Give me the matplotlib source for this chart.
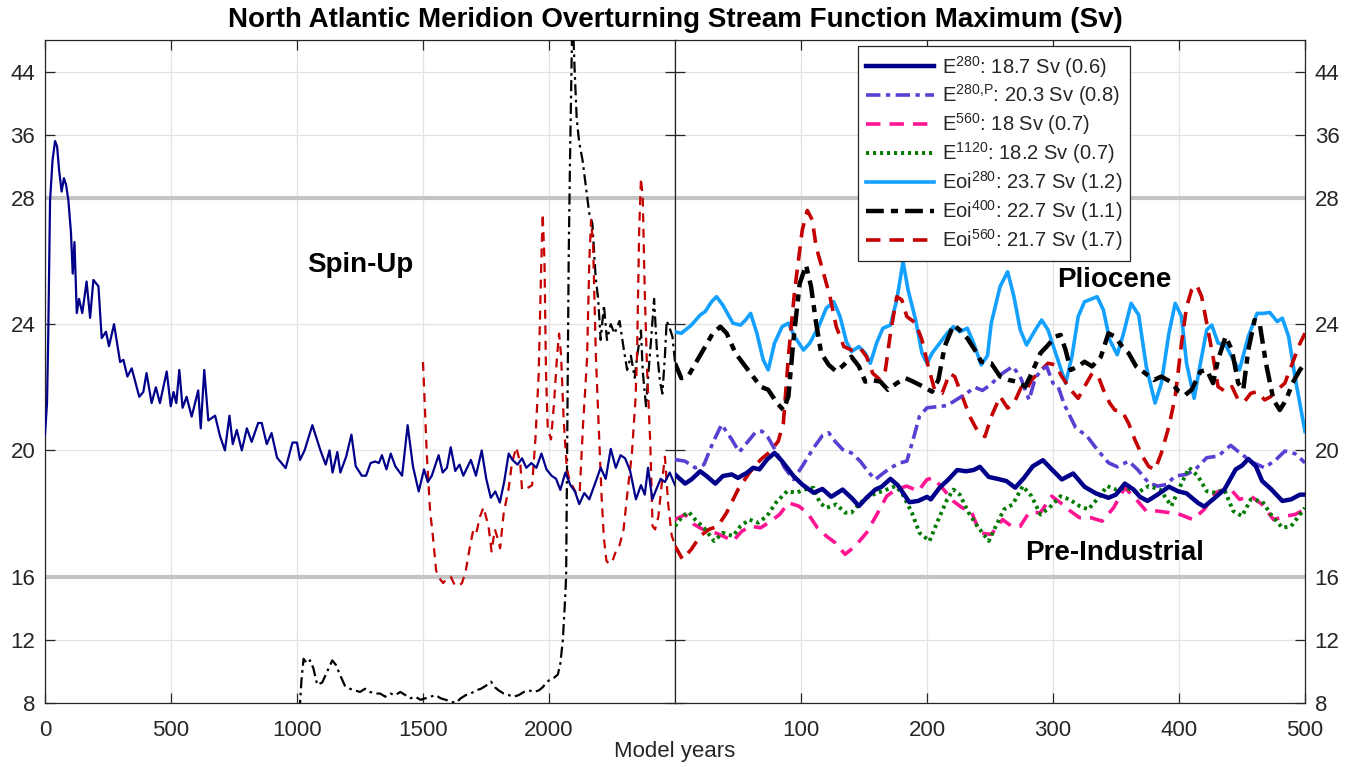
import numpy as np
import matplotlib
matplotlib.use("Agg")
import matplotlib.pyplot as plt

plt.rcParams['font.family'] = ['Liberation Sans', 'DejaVu Sans']
plt.rcParams['mathtext.fontset'] = 'custom'
plt.rcParams['mathtext.rm'] = 'Liberation Sans'

# ---------------------------------------------------------------- data
# Spin-up runs (model years 0-2500)
spin_e280_yr = [0, 8, 13, 20, 30, 40, 48, 56, 66, 75, 84, 93, 103, 110, 117, 126, 135, 148,
                165, 179, 192, 212, 225, 242, 254, 274, 298, 311, 327, 344, 374, 390, 403,
                423, 440, 456, 483, 499, 510, 521, 533, 546, 562, 582, 608, 618, 632, 648,
                675, 695, 714, 732, 745, 761, 781, 801, 820, 846, 860, 880, 899, 921, 955,
                982, 1000, 1012, 1030, 1061, 1093, 1114, 1129, 1141, 1160, 1172, 1195, 1216,
                1233, 1257, 1274, 1292, 1310, 1325, 1337, 1355, 1372, 1390, 1417, 1439, 1460,
                1483, 1504, 1519, 1535, 1562, 1578, 1595, 1610, 1628, 1645, 1660, 1690, 1710,
                1733, 1751, 1769, 1787, 1805, 1822, 1840, 1855, 1875, 1893, 1910, 1930, 1950,
                1970, 1990, 2010, 2028, 2045, 2065, 2085, 2103, 2120, 2140, 2160, 2185, 2205,
                2225, 2245, 2265, 2284, 2302, 2322, 2345, 2365, 2380, 2393, 2410, 2425, 2443,
                2460, 2479, 2500]
spin_e280_v = [20.5, 21.5, 23.7, 27.9, 32.8, 35.2, 34.5, 31.5, 28.8, 30.5, 29.6, 27.9, 26.9,
               25.6, 26.6, 24.35, 24.8, 24.35, 25.35, 24.2, 25.4, 25.2, 23.56, 23.76, 23.3,
               24.0, 22.8, 22.87, 22.34, 22.6, 21.7, 21.85, 22.45, 21.5, 22.0, 21.5, 22.5,
               21.4, 21.85, 21.5, 22.55, 21.35, 21.7, 21.07, 21.9, 20.7, 22.55, 20.95, 21.1,
               20.44, 20.0, 21.1, 20.2, 20.65, 20.0, 20.7, 20.27, 20.87, 20.87, 20.2, 20.55,
               19.77, 19.44, 20.25, 20.25, 19.7, 20.0, 20.8, 20.0, 19.55, 20.0, 19.3, 19.95,
               19.3, 19.8, 20.5, 19.5, 19.2, 19.2, 19.6, 19.65, 19.6, 19.85, 19.4, 19.9, 19.5,
               19.2, 20.8, 19.5, 18.7, 19.4, 19.0, 19.2, 19.85, 19.3, 19.45, 20.1, 19.35,
               19.55, 19.2, 19.7, 19.2, 20.0, 19.1, 18.5, 18.7, 18.35, 19.0, 19.9, 19.7, 19.55,
               19.75, 19.45, 19.6, 19.45, 19.9, 19.4, 19.2, 19.1, 18.75, 19.3, 18.9, 18.7,
               18.3, 18.65, 18.45, 19.0, 19.45, 19.1, 20.05, 19.45, 19.85, 19.75, 19.35, 18.45,
               18.9, 18.6, 19.45, 18.45, 18.75, 19.1, 19.0, 19.3, 18.9]

spin_eoi560_yr = [1500, 1515, 1528, 1539, 1552, 1565, 1580, 1595, 1610, 1625, 1640, 1655, 1670,
                  1685, 1700, 1712, 1726, 1740, 1760, 1772, 1785, 1797, 1806, 1820, 1840, 1853,
                  1870, 1886, 1893, 1913, 1933, 1946, 1959, 1968, 1975, 1982, 1988, 1995, 2008,
                  2020, 2032, 2040, 2048, 2058, 2070, 2082, 2095, 2110, 2122, 2135, 2151, 2160,
                  2167, 2175, 2186, 2196, 2209, 2218, 2228, 2240, 2252, 2265, 2280, 2296, 2309,
                  2329, 2343, 2349, 2358, 2365, 2372, 2380, 2389, 2402, 2411, 2421, 2434, 2447,
                  2460, 2473, 2487, 2500]
spin_eoi560_v = [22.8, 19.9, 18.1, 17.3, 16.2, 15.9, 15.6, 15.9, 16.0, 15.5, 15.4, 15.6, 16.2,
                 16.9, 17.5, 17.4, 17.9, 18.2, 17.6, 16.8, 17.5, 17.2, 16.9, 18.0, 18.8, 19.6,
                 20.1, 19.6, 18.75, 18.8, 18.9, 20.35, 22.4, 25.5, 27.5, 26.0, 22.5, 20.7, 20.35,
                 21.5, 23.0, 23.7, 23.0, 21.0, 19.5, 19.0, 18.85, 18.6, 18.7, 20.8, 22.9, 26.0,
                 27.3, 26.5, 23.0, 21.0, 18.5, 17.2, 16.5, 16.4, 16.5, 16.8, 17.0, 17.5, 18.5,
                 19.9, 21.6, 22.9, 27.0, 30.5, 28.0, 25.0, 22.6, 20.2, 17.6, 17.5, 17.9, 18.9,
                 19.8, 18.3, 17.3, 17.0]

spin_eoi400_yr = [1010, 1018, 1026, 1040, 1052, 1065, 1080, 1100, 1120, 1140, 1155, 1170, 1190,
                  1210, 1230, 1250, 1270, 1290, 1310, 1330, 1350, 1370, 1390, 1410, 1430, 1450,
                  1470, 1490, 1510, 1530, 1550, 1570, 1590, 1610, 1630, 1650, 1670, 1690, 1710,
                  1730, 1750, 1770, 1785, 1800, 1820, 1840, 1860, 1880, 1900, 1920, 1940, 1960,
                  1975, 1990, 2005, 2020, 2035, 2045, 2055, 2062, 2068, 2072, 2078, 2083, 2087,
                  2093, 2102, 2110, 2120, 2133, 2148, 2160, 2172, 2185, 2195, 2205, 2218, 2230,
                  2245, 2260, 2280, 2295, 2310, 2325, 2340, 2350, 2365, 2372, 2385, 2395, 2405,
                  2417, 2428, 2440, 2450, 2460, 2467, 2478, 2490, 2500]
spin_eoi400_v = [7.5, 9.5, 10.8, 10.5, 10.7, 10.2, 9.15, 9.3, 10.0, 10.7, 10.4, 9.8, 9.1, 8.9,
                 8.8, 8.7, 8.9, 8.7, 8.6, 8.6, 8.4, 8.6, 8.5, 8.7, 8.5, 8.3, 8.4, 8.2, 8.3, 8.4,
                 8.5, 8.3, 8.2, 8.1, 8.0, 8.3, 8.5, 8.6, 8.8, 8.9, 9.1, 9.35, 9.0, 8.8, 8.6, 8.5,
                 8.4, 8.5, 8.7, 8.8, 8.7, 8.8, 9.0, 9.3, 9.5, 9.6, 9.8, 10.5, 12.0, 14.0, 16.0,
                 20.0, 26.0, 32.0, 40.0, 52.0, 44.0, 38.0, 35.0, 32.8, 29.0, 27.5, 27.2, 25.5,
                 24.8, 23.5, 24.6, 23.5, 24.0, 23.7, 24.1, 23.3, 22.55, 23.0, 22.3, 23.0, 23.8,
                 22.5, 21.4, 22.5, 23.5, 24.8, 23.2, 22.2, 21.8, 23.0, 24.1, 23.9, 23.6, 22.8]

# Equilibrium runs (model years 0-500)
e280_yr = [0, 8, 13, 20, 25, 32, 38, 45, 50, 57, 62, 67, 73, 79, 85, 94, 101, 110, 117, 124,
           133, 140, 146, 152, 159, 164, 171, 177, 186, 193, 200, 203, 210, 217, 224, 231,
           237, 242, 249, 256, 263, 270, 277, 284, 292, 299, 307, 316, 325, 334, 344, 350,
           357, 364, 369, 375, 383, 392, 399, 406, 415, 420, 427, 436, 445, 450, 455, 461,
           466, 473, 482, 489, 496, 500]
e280_v = [19.24, 18.95, 19.08, 19.34, 19.19, 18.95, 19.19, 19.24, 19.13, 19.29, 19.45, 19.4,
          19.71, 19.92, 19.66, 19.19, 18.92, 18.66, 18.78, 18.53, 18.76, 18.5, 18.24, 18.5,
          18.76, 18.85, 19.1, 18.89, 18.36, 18.4, 18.53, 18.45, 18.82, 19.08, 19.38, 19.34,
          19.38, 19.48, 19.16, 19.1, 19.03, 18.82, 19.13, 19.5, 19.69, 19.4, 19.08, 19.27,
          18.85, 18.64, 18.5, 18.6, 18.95, 18.76, 18.53, 18.4, 18.6, 18.85, 18.71, 18.64,
          18.34, 18.22, 18.45, 18.76, 19.4, 19.52, 19.73, 19.5, 19.03, 18.78, 18.4, 18.45,
          18.6, 18.6]

e280p_yr = [0, 8, 16, 23, 30, 37, 45, 51, 57, 64, 69, 74, 80, 87, 94, 101, 110, 117, 122, 127,
            133, 140, 147, 154, 159, 164, 171, 179, 184, 189, 194, 200, 207, 216, 223, 231,
            238, 244, 251, 258, 268, 274, 281, 286, 291, 295, 300, 304, 309, 318, 327, 335,
            344, 351, 360, 367, 376, 383, 390, 397, 406, 413, 422, 431, 441, 450, 459, 468,
            477, 484, 492, 500]
e280p_v = [19.71, 19.66, 19.45, 19.55, 20.24, 20.82, 20.35, 19.95, 20.24, 20.58, 20.61, 20.4,
           19.98, 19.45, 19.08, 19.5, 20.08, 20.47, 20.56, 20.29, 20.03, 19.92, 19.66, 19.29,
           19.08, 19.24, 19.45, 19.61, 19.66, 20.35, 21.08, 21.35, 21.38, 21.42, 21.6, 21.8,
           22.0, 21.9, 22.1, 22.39, 22.66, 22.34, 21.6, 22.3, 22.55, 22.66, 22.13, 22.03,
           21.45, 20.72, 20.45, 20.03, 19.61, 19.48, 19.66, 19.4, 18.97, 18.87, 18.92, 19.19,
           19.24, 19.4, 19.77, 19.82, 20.16, 19.87, 19.61, 19.45, 19.71, 19.98, 19.9, 19.61]

e560_yr = [0, 8, 15, 22, 29, 38, 46, 53, 60, 68, 76, 83, 90, 98, 105, 113, 120, 127, 135, 143,
           152, 161, 168, 175, 184, 193, 200, 205, 212, 221, 228, 235, 242, 251, 260, 267,
           274, 281, 290, 299, 306, 312, 321, 330, 339, 348, 357, 366, 374, 383, 392, 401,
           411, 420, 429, 440, 448, 457, 466, 475, 485, 492, 500]
e560_v = [17.81, 17.97, 17.66, 17.5, 17.44, 17.29, 17.13, 17.44, 17.6, 17.55, 17.76, 17.97,
          18.34, 18.24, 18.03, 17.55, 17.29, 17.08, 16.71, 16.97, 17.39, 18.03, 18.55, 18.76,
          18.87, 18.71, 19.08, 19.13, 18.82, 18.39, 18.18, 18.08, 17.39, 17.34, 17.81, 17.6,
          17.6, 18.03, 18.03, 18.55, 18.34, 18.13, 17.87, 17.87, 17.76, 18.18, 18.82, 18.45,
          18.08, 18.08, 18.03, 17.97, 17.81, 18.13, 18.66, 18.82, 18.45, 18.55, 18.29, 17.81,
          17.92, 17.97, 18.13]

e1120_yr = [0, 6, 11, 16, 23, 31, 38, 46, 52, 59, 66, 73, 80, 89, 96, 103, 110, 115, 120, 128,
            135, 140, 147, 154, 161, 168, 175, 180, 188, 194, 202, 209, 216, 221, 226, 233,
            240, 249, 256, 261, 268, 276, 283, 290, 297, 306, 313, 321, 328, 336, 343, 350,
            358, 367, 376, 385, 394, 401, 408, 415, 422, 429, 436, 443, 450, 457, 466, 473,
            482, 489, 500]
e1120_v = [17.6, 17.92, 18.05, 17.81, 17.55, 17.13, 17.39, 17.29, 17.6, 17.81, 17.71, 17.92,
           18.34, 18.71, 18.66, 18.76, 18.82, 18.34, 18.18, 18.29, 18.03, 18.03, 18.34, 18.55,
           18.66, 18.76, 18.87, 18.66, 18.03, 17.39, 17.13, 17.81, 18.45, 18.76, 18.6, 18.03,
           17.6, 17.13, 17.71, 18.13, 18.29, 18.87, 18.55, 17.97, 18.18, 18.55, 18.45, 18.24,
           18.13, 18.5, 18.87, 18.76, 18.82, 18.66, 18.87, 18.76, 18.24, 18.87, 19.45, 19.19,
           18.71, 18.66, 18.76, 18.08, 17.92, 18.45, 18.39, 17.97, 17.55, 17.6, 18.18]

eoi280_yr = [0, 5, 13, 20, 24, 29, 33, 38, 46, 52, 56, 60, 65, 70, 74, 79, 85, 90, 95, 102,
             107, 114, 120, 126, 131, 136, 140, 146, 151, 155, 160, 165, 171, 176, 181, 185,
             191, 196, 200, 204, 209, 216, 221, 226, 232, 237, 243, 248, 251, 258, 264, 269,
             274, 279, 286, 291, 296, 303, 310, 315, 320, 325, 329, 335, 340, 345, 351, 356,
             362, 368, 374, 381, 386, 392, 397, 402, 406, 412, 417, 422, 426, 431, 437, 443,
             448, 455, 462, 467, 472, 478, 482, 487, 492, 500]
eoi280_v = [23.76, 23.71, 23.97, 24.29, 24.4, 24.71, 24.87, 24.6, 24.03, 23.97, 24.13, 24.34,
            23.71, 22.87, 22.55, 23.4, 23.92, 24.03, 23.6, 23.18, 23.4, 23.92, 24.5, 24.71,
            24.24, 23.45, 23.13, 23.29, 23.08, 22.76, 23.4, 23.87, 23.97, 24.77, 25.98, 25.08,
            24.13, 23.08, 22.76, 23.08, 23.34, 23.71, 23.92, 23.76, 23.87, 23.4, 22.71, 23.0,
            24.03, 25.19, 25.66, 24.87, 23.82, 23.34, 23.82, 24.13, 23.82, 22.97, 22.13, 22.97,
            24.24, 24.71, 24.77, 24.87, 24.45, 23.5, 23.03, 23.71, 24.66, 24.29, 22.66, 21.5,
            22.13, 23.71, 24.66, 24.24, 22.76, 21.65, 22.76, 23.82, 23.97, 23.4, 23.34, 22.87,
            22.55, 23.61, 24.34, 24.34, 24.37, 24.08, 24.19, 23.61, 22.34, 20.6]

eoi400_yr = [0, 5, 11, 17, 24, 30, 36, 41, 48, 54, 61, 68, 74, 81, 86, 90, 94, 99, 104, 108,
             112, 116, 122, 128, 134, 140, 146, 151, 156, 163, 169, 176, 183, 189, 197, 204,
             209, 214, 221, 226, 232, 238, 243, 251, 258, 265, 271, 278, 283, 290, 295, 302,
             306, 310, 314, 320, 325, 331, 338, 344, 349, 355, 360, 366, 373, 380, 386, 393,
             400, 405, 410, 417, 422, 427, 431, 437, 442, 447, 451, 455, 460, 464, 469, 475,
             480, 485, 490, 496, 500]
eoi400_v = [22.76, 22.29, 22.39, 22.81, 23.29, 23.71, 23.92, 23.71, 23.08, 22.76, 22.39, 22.02,
            21.92, 21.5, 21.28, 21.71, 23.5, 25.29, 25.87, 25.19, 24.03, 23.08, 22.71, 22.5,
            22.71, 22.97, 22.66, 22.18, 22.23, 22.18, 21.92, 22.13, 22.29, 22.18, 22.02, 21.86,
            22.23, 23.29, 23.97, 23.82, 23.55, 23.18, 22.81, 22.76, 22.34, 22.23, 22.18, 22.02,
            22.44, 23.08, 23.29, 23.61, 23.66, 23.18, 22.55, 22.66, 22.81, 22.66, 22.97, 23.71,
            23.61, 23.29, 23.08, 22.66, 22.45, 22.23, 22.34, 22.18, 21.86, 21.76, 21.92, 22.5,
            22.55, 22.13, 22.87, 23.61, 23.18, 22.13, 21.92, 23.18, 24.13, 24.03, 22.76, 21.6,
            21.28, 21.6, 22.13, 22.55, 22.76]

eoi560_yr = [0, 6, 13, 20, 27, 34, 41, 50, 59, 68, 76, 82, 86, 90, 95, 101, 105, 109, 112, 118,
             123, 128, 134, 140, 147, 152, 157, 163, 167, 171, 176, 180, 184, 191, 196, 201,
             206, 212, 218, 222, 228, 234, 241, 246, 251, 258, 264, 269, 275, 279, 283, 288,
             296, 302, 307, 314, 320, 325, 331, 336, 340, 345, 349, 355, 360, 365, 371, 376,
             381, 386, 392, 397, 402, 406, 410, 414, 418, 422, 427, 431, 437, 442, 447, 452,
             457, 462, 468, 473, 478, 484, 489, 496, 500]
eoi560_v = [16.97, 16.55, 16.87, 17.29, 17.5, 17.6, 18.03, 18.76, 19.29, 19.71, 19.98, 20.3,
            20.86, 22.97, 25.08, 26.98, 27.6, 27.3, 26.45, 25.6, 24.87, 23.92, 23.29, 23.18,
            23.24, 22.97, 22.44, 22.23, 22.55, 23.71, 24.87, 24.77, 24.24, 24.03, 23.5, 22.66,
            21.92, 21.81, 22.44, 22.34, 21.71, 21.07, 20.55, 20.44, 21.07, 21.71, 21.34, 21.5,
            22.02, 21.92, 22.23, 22.44, 22.76, 22.71, 22.34, 21.92, 21.65, 22.02, 22.44, 22.34,
            21.92, 21.5, 21.28, 21.23, 20.86, 20.34, 19.81, 19.49, 19.39, 19.92, 20.76, 21.71,
            23.39, 24.55, 25.08, 25.24, 24.87, 24.03, 22.97, 22.02, 21.86, 22.02, 21.6, 21.55,
            21.81, 21.86, 21.6, 21.71, 21.92, 22.13, 22.66, 23.39, 23.71]

legend_labels = [
    r'E$^{\mathregular{280}}$: 18.7 Sv (0.6)',
    r'E$^{\text{280,P}}$: 20.3 Sv (0.8)',
    r'E$^{\mathregular{560}}$: 18 Sv (0.7)',
    r'E$^{\mathregular{1120}}$: 18.2 Sv (0.7)',
    r'Eoi$^{\mathregular{280}}$: 23.7 Sv (1.2)',
    r'Eoi$^{\mathregular{400}}$: 22.7 Sv (1.1)',
    r'Eoi$^{\mathregular{560}}$: 21.7 Sv (1.7)',
]

y_ticks = [8, 12, 16, 20, 24, 28, 36, 44]
y_breaks = [16, 28]
x_ticks_spin = [0, 500, 1000, 1500, 2000]
x_ticks_eq = [100, 200, 300, 400, 500]

# ---------------------------------------------------------------- styles
NAVY = '#00008B'
PURPLE = '#5B3FD3'
PINK = '#FF1493'
GREEN = '#007A00'
LBLUE = '#14A0FF'
DRED = '#C40000'
TXT = '#262626'


def fwd(v):
    v = np.asarray(v, float)
    return np.where(v < 16, v, np.where(v < 28, 16 + 2 * (v - 16), 40 + 0.5 * (v - 28)))


def inv(t):
    t = np.asarray(t, float)
    return np.where(t < 16, t, np.where(t < 40, 16 + (t - 16) / 2, 28 + 2 * (t - 40)))


W, H = 1357, 767
fig = plt.figure(figsize=(W / 100, H / 100), dpi=100)
axL = fig.add_axes([45 / W, 64 / H, 630 / W, 663 / H])
axR = fig.add_axes([675 / W, 64 / H, 630 / W, 663 / H])

for ax in (axL, axR):
    ax.set_yscale('function', functions=(fwd, inv))
    ax.set_ylim(8, 48)
    ax.set_yticks(y_ticks)
    ax.set_yticklabels([str(t) for t in y_ticks])
    ax.grid(True, color='#E3E3E3', lw=0.9)
    ax.set_axisbelow(True)
    for yb in y_breaks:
        ax.axhline(yb, color='#C4C4C4', lw=3, zorder=1)
    for s in ax.spines.values():
        s.set_color(TXT)
        s.set_linewidth(0.9)
    ax.tick_params(direction='in', length=7, width=0.9, color=TXT, labelcolor=TXT,
                   labelsize=16, top=True, bottom=True, left=True, right=True)
    ax.tick_params(axis='x', pad=12)
    ax.tick_params(axis='y', pad=7)

# Spin-up panel
axL.set_xlim(0, 2500)
axL.set_xticks(x_ticks_spin)
axL.tick_params(labelleft=True, labelright=False)
axL.plot(spin_eoi400_yr, spin_eoi400_v, color='black', lw=1.6, ls='-.',
         dashes=(5, 2, 1.2, 2), zorder=3)
axL.plot(spin_eoi560_yr, spin_eoi560_v, color=DRED, lw=1.6, ls='--', dashes=(4, 3), zorder=3)
axL.plot(spin_e280_yr, spin_e280_v, color=NAVY, lw=1.6, zorder=4)
axL.text(1250, 25.87, 'Spin-Up', ha='center', va='center', fontsize=20, weight='bold')

# Equilibrium panel
axR.set_xlim(0, 500)
axR.set_xticks(x_ticks_eq)
axR.tick_params(labelleft=False, labelright=True)

h1, = axR.plot(e280_yr, e280_v, color=NAVY, lw=3.2, zorder=6)
h2, = axR.plot(e280p_yr, e280p_v, color=PURPLE, lw=2.6, ls='-.', dashes=(4, 1.5, 1.2, 1.5), zorder=4)
h3, = axR.plot(e560_yr, e560_v, color=PINK, lw=2.6, ls='--', dashes=(4, 2.5), zorder=4)
h4, = axR.plot(e1120_yr, e1120_v, color=GREEN, lw=2.8, ls=':', dashes=(0.8, 1.0), zorder=5)
h5, = axR.plot(eoi280_yr, eoi280_v, color=LBLUE, lw=2.6, zorder=3)
h6, = axR.plot(eoi400_yr, eoi400_v, color='black', lw=3.2, ls='-.', dashes=(4, 1.6, 1.6, 1.6), zorder=4)
h7, = axR.plot(eoi560_yr, eoi560_v, color=DRED, lw=2.6, ls='--', dashes=(4, 2.5), zorder=3)

axR.text(349, 25.4, 'Pliocene', ha='center', va='center', fontsize=20, weight='bold')
axR.text(349, 16.76, 'Pre-Industrial', ha='center', va='center', fontsize=20, weight='bold')

leg = fig.legend([h1, h2, h3, h4, h5, h6, h7], legend_labels,
                 loc='upper left', bbox_to_anchor=(858 / W, 1 - 46 / H),
                 fontsize=14.5, frameon=True, fancybox=False, framealpha=1,
                 edgecolor=TXT, handlelength=3.4, handletextpad=0.4,
                 labelspacing=0.15, borderpad=0.38, borderaxespad=0)
leg.get_frame().set_linewidth(0.9)
leg.set_zorder(10)
for t in leg.get_texts():
    t.set_color(TXT)

fig.text(675 / W, 1 - 20 / H, 'North Atlantic Meridion Overturning Stream Function Maximum (Sv)',
         ha='center', va='center', fontsize=20, weight='bold')
fig.text(675 / W, 1 - 751 / H, 'Model years', ha='center', va='center', fontsize=16, color=TXT)

fig.savefig('out.png', dpi=100)
